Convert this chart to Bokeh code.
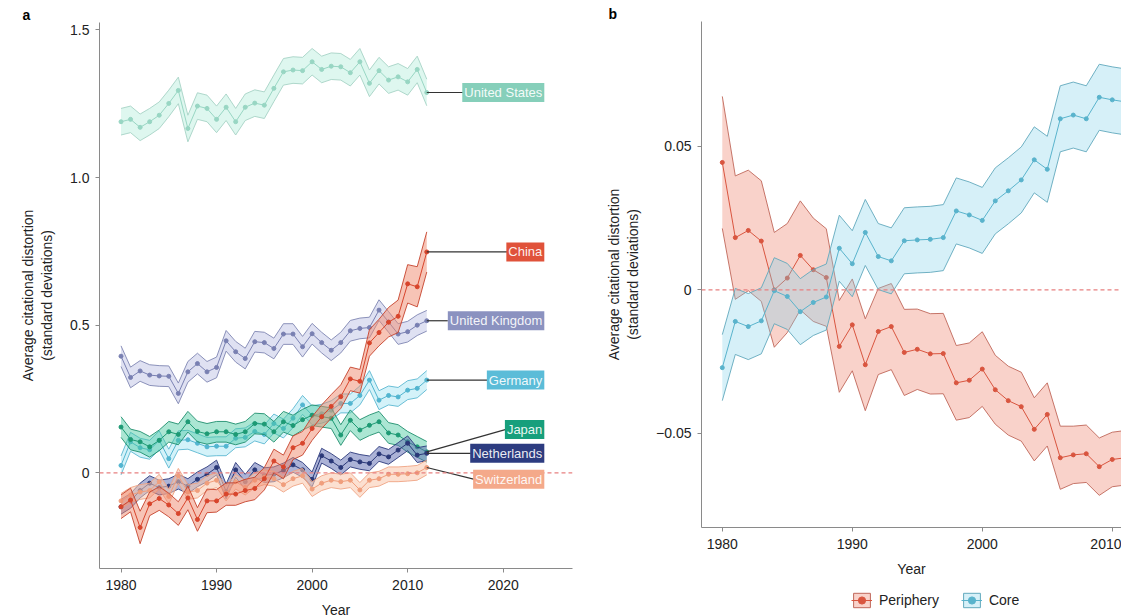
from bokeh.plotting import figure
from bokeh.layouts import row, column
from bokeh.models import (ColumnDataSource, Span, Label, FixedTicker, Legend, LegendItem, Range1d)
from bokeh.embed import file_html
from bokeh.resources import INLINE

FONT = "Liberation Sans"

# ---------------- data: panel a ----------------
years_a = list(range(1980, 2013))

us = [1.189, 1.197, 1.170, 1.189, 1.211, 1.251, 1.295, 1.166, 1.242, 1.234,
      1.197, 1.238, 1.189, 1.238, 1.252, 1.245, 1.302, 1.358, 1.364, 1.362,
      1.392, 1.366, 1.377, 1.375, 1.355, 1.392, 1.319, 1.362, 1.330, 1.341,
      1.324, 1.366, 1.288]
china = [-0.115, -0.092, -0.185, -0.105, -0.087, -0.109, -0.138, -0.085, -0.158, -0.095,
         -0.095, -0.072, -0.072, -0.060, -0.053, -0.020, 0.040, 0.020, 0.085, 0.100,
         0.150, 0.190, 0.225, 0.258, 0.318, 0.310, 0.440, 0.475, 0.510, 0.530,
         0.640, 0.630, 0.748]
uk = [0.395, 0.323, 0.345, 0.331, 0.328, 0.327, 0.269, 0.342, 0.370, 0.342,
      0.357, 0.447, 0.410, 0.387, 0.444, 0.441, 0.421, 0.470, 0.470, 0.427,
      0.471, 0.441, 0.415, 0.441, 0.481, 0.489, 0.492, 0.551, 0.511, 0.470,
      0.478, 0.500, 0.515]
germany = [0.025, 0.105, 0.085, 0.078, 0.110, 0.048, 0.110, 0.112, 0.100, 0.088,
           0.090, 0.090, 0.117, 0.120, 0.140, 0.130, 0.167, 0.150, 0.185, 0.230,
           0.195, 0.200, 0.212, 0.235, 0.235, 0.262, 0.314, 0.246, 0.262, 0.257,
           0.280, 0.286, 0.314]
japan = [0.155, 0.113, 0.105, 0.088, 0.110, 0.139, 0.130, 0.173, 0.140, 0.132,
         0.139, 0.139, 0.130, 0.139, 0.167, 0.165, 0.139, 0.173, 0.160, 0.180,
         0.195, 0.190, 0.185, 0.128, 0.178, 0.145, 0.161, 0.173, 0.135, 0.128,
         0.105, 0.088, 0.071]
netherlands = [-0.115, -0.095, -0.060, -0.035, -0.050, -0.045, -0.030, -0.045, -0.022, -0.005,
               0.018, -0.063, 0.010, -0.030, 0.010, -0.008, -0.005, 0.008, 0.027, 0.010,
               -0.022, 0.058, 0.040, 0.018, 0.045, 0.037, 0.032, 0.064, 0.054, 0.077,
               0.100, 0.060, 0.066]
switzerland = [-0.095, -0.075, -0.065, -0.060, -0.030, -0.080, -0.010, -0.065, -0.060, -0.035,
               -0.025, -0.070, -0.030, -0.050, -0.025, -0.015, -0.020, -0.040, -0.020, -0.010,
               -0.055, -0.035, -0.025, -0.030, -0.025, -0.058, -0.025, -0.020, -0.005, -0.005,
               -0.003, 0.000, 0.018]

# ribbon half widths
hw_us = 0.045
hw_china = [0.040, 0.040, 0.055, 0.040, 0.040, 0.040, 0.040, 0.040, 0.040, 0.040,
            0.038, 0.038, 0.038, 0.038, 0.038, 0.038, 0.040, 0.040, 0.040, 0.040,
            0.040, 0.040, 0.040, 0.040, 0.040, 0.040, 0.045, 0.045, 0.050, 0.055,
            0.065, 0.068, 0.068]
hw_uk = 0.035
hw_germany = 0.032
hw_japan = 0.035
hw_netherlands = 0.025
hw_switzerland = 0.025

country_names = ["United States", "China", "United Kingdom", "Germany", "Japan",
                 "Netherlands", "Switzerland"]
label_y = [1.288, 0.748, 0.515, 0.314, 0.147, 0.066, -0.022]
label_left = [2015.85, 2020.4, 2014.2, 2018.5, 2020.3, 2016.6, 2017.0]

# ---------------- data: panel b ----------------
years_b = list(range(1980, 2012))
periphery = [0.0444, 0.0182, 0.0207, 0.0170, 0.0000, 0.0041, 0.0120, 0.0070, 0.0043, -0.0197,
             -0.0122, -0.0261, -0.0145, -0.0128, -0.0218, -0.0207, -0.0223, -0.0222, -0.0324, -0.0315,
             -0.0276, -0.0348, -0.0386, -0.0407, -0.0486, -0.0434, -0.0585, -0.0575, -0.0571, -0.0616,
             -0.0591, -0.0585]
periphery_hw = [0.023, 0.0215, 0.021, 0.021, 0.020, 0.019, 0.019, 0.018, 0.017, 0.016,
                0.016, 0.016, 0.015, 0.015, 0.015, 0.014, 0.014, 0.014, 0.013, 0.013,
                0.013, 0.012, 0.012, 0.012, 0.011, 0.011, 0.011, 0.010, 0.010, 0.010,
                0.0095, 0.0095]
core = [-0.0271, -0.0110, -0.0128, -0.0108, -0.0003, -0.0023, -0.0076, -0.0044, -0.0025, 0.0145,
        0.0091, 0.0200, 0.0116, 0.0101, 0.0171, 0.0174, 0.0176, 0.0182, 0.0275, 0.0261,
        0.0242, 0.0310, 0.0345, 0.0383, 0.0453, 0.0420, 0.0596, 0.0609, 0.0596, 0.0671,
        0.0662, 0.0655]
core_hw = 0.0115
group_names = ["Periphery", "Core"]

# ---------------- styles ----------------
styles_a = {
    "United States": dict(fill="#d3f4e9", alpha=0.75, edge="#a6d3c5", center="#98d6c3", label="#86cfba"),
    "China": dict(fill="#f08a6e", alpha=0.5, edge="#c7432c", center="#d8452c", label="#e0523a"),
    "United Kingdom": dict(fill="#bfc4e6", alpha=0.5, edge="#7f86b2", center="#7980b2", label="#8b92c0"),
    "Germany": dict(fill="#a9e5f3", alpha=0.5, edge="#5cb8d1", center="#52b5d0", label="#5bbcd8"),
    "Japan": dict(fill="#45c89d", alpha=0.45, edge="#1f8f6e", center="#1d9a74", label="#179f7c"),
    "Netherlands": dict(fill="#5a68b0", alpha=0.5, edge="#2c3a7c", center="#2a3878", label="#2d3c80"),
    "Switzerland": dict(fill="#f9c6ac", alpha=0.55, edge="#f0a484", center="#f09e7c", label="#f4a98a"),
}
styles_b = {
    "Periphery": dict(fill="#ef8a74", alpha=0.38, edge="#c0675a", center="#d9553f"),
    "Core": dict(fill="#7fd0ea", alpha=0.32, edge="#62a9bd", center="#59b3cc"),
}


def style_axes(p):
    for ax in (p.xaxis[0], p.yaxis[0]):
        ax.axis_line_color = "#8a8a8a"
        ax.axis_line_width = 1
        ax.major_tick_line_color = "#8a8a8a"
        ax.major_tick_out = 4
        ax.major_tick_in = 0
        ax.minor_tick_line_color = None
        ax.major_label_text_font = FONT
        ax.major_label_text_font_size = "14px"
        ax.major_label_text_color = "#222222"
        ax.axis_label_text_font = FONT
        ax.axis_label_text_font_size = "14px"
        ax.axis_label_text_font_style = "normal"
        ax.axis_label_text_color = "#222222"
    p.xaxis.major_label_standoff = 7
    p.yaxis.major_label_standoff = 6
    p.xaxis.axis_label_standoff = 9
    p.grid.visible = False
    p.outline_line_color = None


def style_title(p, text, offset):
    p.title.text = text
    p.title.text_font = FONT
    p.title.text_font_size = "14px"
    p.title.text_font_style = "bold"
    p.title.text_color = "black"
    p.title.align = "left"
    p.title.offset = offset
    p.title.standoff = 0


def band_source(x, y, hw):
    if isinstance(hw, list):
        lo = [v - h for v, h in zip(y, hw)]
        hi = [v + h for v, h in zip(y, hw)]
    else:
        lo = [v - hw for v in y]
        hi = [v + hw for v in y]
    return ColumnDataSource(dict(x=x, y=y, lo=lo, hi=hi))


def draw_band(p, x, y, hw, st):
    src = band_source(x, y, hw)
    p.varea(x="x", y1="lo", y2="hi", source=src, fill_color=st["fill"], fill_alpha=st["alpha"])
    p.line(x="x", y="hi", source=src, line_color=st["edge"], line_width=1, line_alpha=0.9)
    p.line(x="x", y="lo", source=src, line_color=st["edge"], line_width=1, line_alpha=0.9)
    p.line(x="x", y="y", source=src, line_color=st["center"], line_width=1)
    p.scatter(x="x", y="y", source=src, size=4, fill_color=st["center"], line_color=st["center"])


# ---------------- panel a ----------------
p1 = figure(frame_width=473, frame_height=546, x_range=(1977.75, 2027.25), y_range=(-0.324, 1.525),
            output_backend="svg", toolbar_location=None,
            min_border_left=99, min_border_right=27, min_border_top=22, min_border_bottom=40)
p1.add_layout(Span(location=0, dimension="width", line_color="#e88080", line_dash="4 3", line_width=1.3))

series_a = [us, china, uk, germany, japan, netherlands, switzerland]
hws_a = [hw_us, hw_china, hw_uk, hw_germany, hw_japan, hw_netherlands, hw_switzerland]
draw_order = [0, 2, 3, 4, 5, 6, 1]
for i in draw_order:
    draw_band(p1, years_a, series_a[i], hws_a[i], styles_a[country_names[i]])

seg_src = ColumnDataSource(dict(x0=[years_a[-1]] * len(country_names),
                                y0=[s[-1] for s in series_a],
                                x1=label_left, y1=label_y))
p1.segment(x0="x0", y0="y0", x1="x1", y1="y1", source=seg_src, line_color="#333333", line_width=1.2)

for name, ly in zip(country_names, label_y):
    p1.add_layout(Label(x=2024.3, y=ly, text=name, text_align="right", text_baseline="middle",
                        text_font=FONT, text_font_size="13px", text_color="white", text_alpha=0.92,
                        background_fill_color=styles_a[name]["label"], background_fill_alpha=1.0,
                        padding=2))

p1.xaxis.ticker = FixedTicker(ticks=[1980, 1990, 2000, 2010, 2020])
p1.yaxis.ticker = FixedTicker(ticks=[0, 0.5, 1, 1.5])
p1.yaxis.major_label_overrides = {0: "0", 0.5: "0.5", 1: "1.0", 1.5: "1.5"}
p1.xaxis.axis_label = "Year"
p1.yaxis.axis_label = "Average citational distortion\n(standard deviations)"
style_axes(p1)
p1.yaxis.axis_label_standoff = 12
style_title(p1, "a", -77)

# ---------------- panel b ----------------
p2 = figure(frame_width=420, frame_height=506, x_range=(1978.4, 2010.71), y_range=(-0.0828, 0.0935),
            output_backend="svg", toolbar_location=None,
            min_border_left=102, min_border_right=0, min_border_top=21, min_border_bottom=20)
p2.add_layout(Span(location=0, dimension="width", line_color="#e88080", line_dash="4 3", line_width=1.3))

group_values = [periphery, core]
group_hw = [periphery_hw, core_hw]
for name, vals, hw in zip(group_names, group_values, group_hw):
    draw_band(p2, years_b, vals, hw, styles_b[name])

p2.xaxis.ticker = FixedTicker(ticks=[1980, 1990, 2000, 2010])
p2.yaxis.ticker = FixedTicker(ticks=[-0.05, 0, 0.05])
p2.yaxis.major_label_overrides = {-0.05: "\u22120.05", 0: "0", 0.05: "0.05"}
p2.xaxis.axis_label = "Year"
p2.yaxis.axis_label = "Average citational distortion\n(standard deviations)"
style_axes(p2)
p2.yaxis.axis_label_standoff = 12
style_title(p2, "b", -93)

# ---------------- legend strip under panel b ----------------
# the same series are drawn here outside the strip's ranges, only so the legend can show their keys
p3 = figure(width=522, height=34, x_range=Range1d(0, 1), y_range=Range1d(0, 1),
            output_backend="svg", toolbar_location=None, min_border=0)
p3.axis.visible = False
p3.grid.visible = False
p3.outline_line_color = None
items = []
for name, vals, hw in zip(group_names, group_values, group_hw):
    st = styles_b[name]
    src = band_source(years_b, vals, hw)
    area = p3.varea(x="x", y1="lo", y2="hi", source=src, fill_color=st["fill"], fill_alpha=st["alpha"])
    box = p3.quad(left="x", right="x", bottom="lo", top="hi", source=src,
                  fill_alpha=0, line_color=st["edge"], line_width=1)
    ln = p3.line(x="x", y="y", source=src, line_color=st["center"], line_width=1)
    sc = p3.scatter(x="x", y="y", source=src, size=4, fill_color=st["center"], line_color=st["center"])
    items.append(LegendItem(label=name, renderers=[area, box, ln, sc]))
legend = Legend(items=items, orientation="horizontal", location=(150, 4),
                border_line_color=None, background_fill_alpha=0, padding=0, margin=0,
                spacing=22, label_standoff=7, glyph_width=21, glyph_height=18,
                label_text_font=FONT, label_text_font_size="14px", label_text_color="#222222")
p3.add_layout(legend)

layout = row(p1, column(p2, p3))
open("out.html", "w").write(file_html(layout, INLINE))
